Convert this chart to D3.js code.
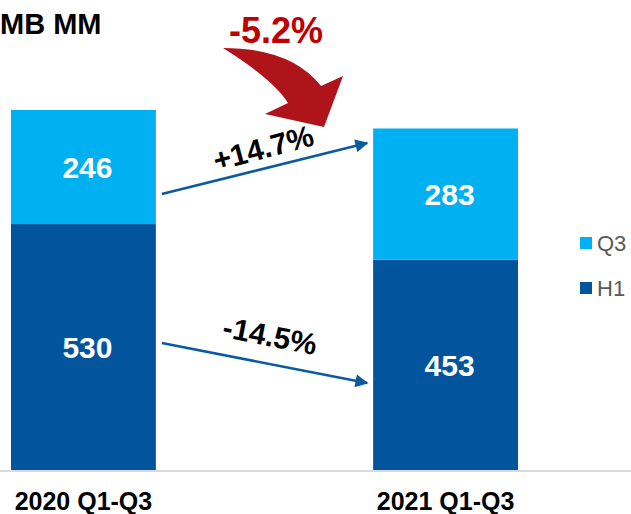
<!DOCTYPE html>
<html>
<head>
<meta charset="utf-8">
<script src="https://cdn.jsdelivr.net/npm/d3@7"></script>
<style>
  html, body { margin: 0; padding: 0; background: #fff; }
  svg { display: block; font-family: "Liberation Sans", Arial, sans-serif; }
</style>
</head>
<body>
<script>
// Revenue by period, RMB MM
const categories = ["2020 Q1-Q3", "2021 Q1-Q3"];
const seriesNames = ["H1", "Q3"];
const h1Values = [530, 453];
const q3Values = [246, 283];
const changeLabels = { q3: "+14.7%", h1: "-14.5%", total: "-5.2%" };
const titleText = "MB MM";

const W = 631, H = 514;
const colors = { H1: "#02559C", Q3: "#00B0F0" };

const svg = d3.select("body").append("svg")
  .attr("width", W).attr("height", H);

const x = d3.scaleBand().domain(categories).range([11, 518])
  .paddingInner(0.6).paddingOuter(0);
const y = d3.scaleLinear().domain([0, 1000]).range([470, 6]);

const rows = categories.map((c, i) => ({ cat: c, H1: h1Values[i], Q3: q3Values[i] }));
const stacked = d3.stack().keys(seriesNames)(rows);

// baseline
svg.append("line")
  .attr("x1", 0).attr("x2", W)
  .attr("y1", y(0) + 1).attr("y2", y(0) + 1)
  .attr("stroke", "#d9d9d9").attr("stroke-width", 2);

// stacked bars
const layers = svg.selectAll("g.layer").data(stacked).join("g")
  .attr("class", "layer")
  .attr("fill", d => colors[d.key]);

layers.selectAll("rect").data(d => d).join("rect")
  .attr("x", d => x(d.data.cat))
  .attr("width", x.bandwidth())
  .attr("y", d => y(d[1]))
  .attr("height", d => y(d[0]) - y(d[1]));

// values inside segments
layers.selectAll("text").data(d => d).join("text")
  .attr("x", d => x(d.data.cat) + x.bandwidth() / 2 + 4)
  .attr("y", d => (y(d[0]) + y(d[1])) / 2 + 11)
  .attr("text-anchor", "middle")
  .attr("fill", "#fff")
  .attr("font-weight", "bold")
  .attr("font-size", 30)
  .text(d => d[1] - d[0]);

// category axis
const xAxis = svg.append("g")
  .attr("transform", `translate(0,${y(0)})`)
  .call(d3.axisBottom(x).tickSize(0).tickPadding(0));
xAxis.select(".domain").remove();
xAxis.selectAll("text")
  .attr("y", 40)
  .attr("dy", 0)
  .attr("fill", "#000")
  .attr("font-size", 25)
  .attr("font-weight", "bold")
  .attr("font-family", "Liberation Sans, Arial, sans-serif");

// title
svg.append("text")
  .attr("x", 0).attr("y", 34)
  .attr("font-size", 29).attr("font-weight", "bold")
  .attr("fill", "#000")
  .text(titleText);

// legend
const legendItems = ["Q3", "H1"];
const legend = svg.selectAll("g.legend").data(legendItems).join("g")
  .attr("class", "legend")
  .attr("transform", (d, i) => `translate(580,${243 + i * 45})`);
legend.append("rect")
  .attr("x", 0).attr("y", -6).attr("width", 12).attr("height", 12)
  .attr("fill", d => colors[d]);
legend.append("text")
  .attr("x", 17).attr("y", 8)
  .attr("font-size", 22).attr("fill", "#595959")
  .text(d => d);

// change arrows between bars
const defs = svg.append("defs");
defs.append("marker")
  .attr("id", "blueHead")
  .attr("viewBox", "0 0 10 10")
  .attr("refX", 9).attr("refY", 5)
  .attr("markerWidth", 6).attr("markerHeight", 5)
  .attr("markerUnits", "strokeWidth")
  .attr("orient", "auto")
  .append("path").attr("d", "M0,0 L10,5 L0,10 Z").attr("fill", "#0A5AA0");

const x0 = x(categories[0]) + x.bandwidth();
const x1 = x(categories[1]);

function changeArrow(fromY, toY, label, textPos, rot) {
  const ax = x0 + 6, bx = x1 - 6;
  svg.append("line")
    .attr("x1", ax).attr("y1", fromY)
    .attr("x2", bx).attr("y2", toY)
    .attr("stroke", "#0A5AA0").attr("stroke-width", 2.6)
    .attr("marker-end", "url(#blueHead)");
  svg.append("text")
    .attr("transform", `translate(${textPos[0]},${textPos[1]}) rotate(${rot})`)
    .attr("text-anchor", "middle")
    .attr("font-size", 30).attr("font-weight", "bold").attr("fill", "#000")
    .text(label);
}

// Q3 change: from middle of 2020 Q3 segment to near top of 2021 bar
changeArrow(194, 143, changeLabels.q3, [266, 158], -15);
// H1 change
changeArrow(343, 383, changeLabels.h1, [268, 346], 11);

// total change: curved red arrow
svg.append("path")
  .attr("d", "M223,48 Q291,48 321,86 L343,76 L324,127 L265,114 L288,103 Q274,80 223,48 Z")
  .attr("fill", "#AE1419");

svg.append("text")
  .attr("x", 229).attr("y", 43)
  .attr("font-size", 36).attr("font-weight", "bold")
  .attr("fill", "#C00000")
  .text(changeLabels.total);
</script>
</body>
</html>
